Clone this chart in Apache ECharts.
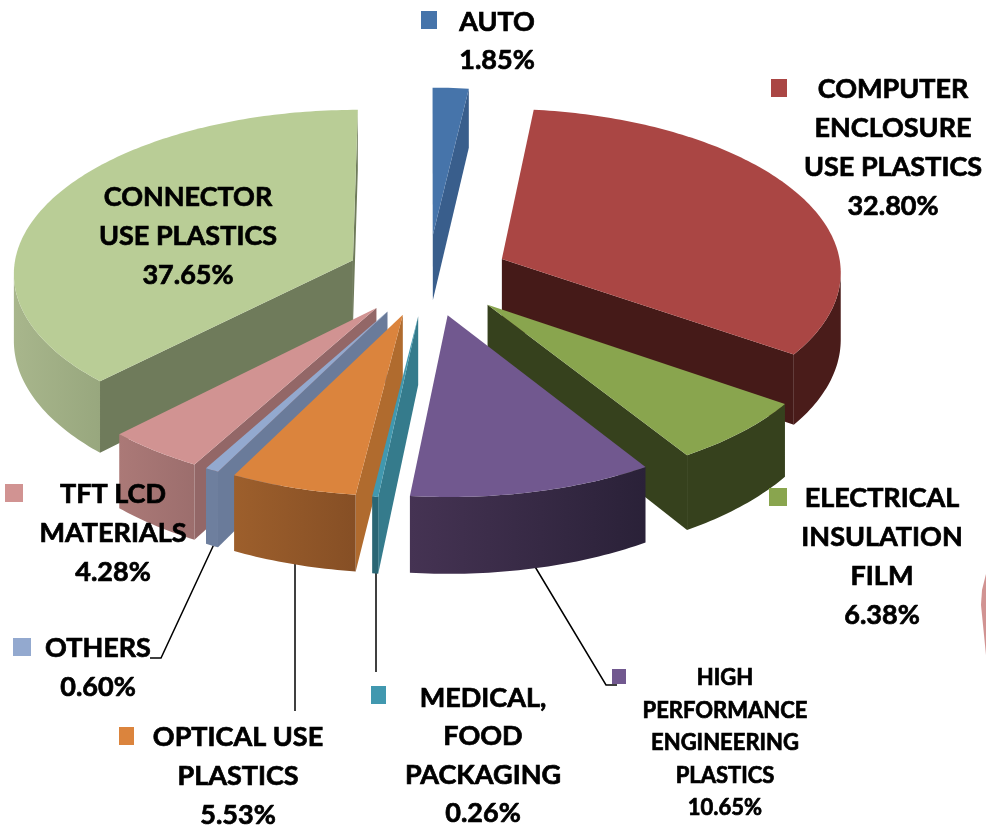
<!DOCTYPE html>
<html>
<head>
<meta charset="utf-8">
<title>Plastics by application</title>
<script src="https://cdn.jsdelivr.net/npm/echarts@6/dist/echarts.min.js"></script>
<style>
	html, body { margin: 0; padding: 0; background: #fff; }
	#chart { width: 986px; height: 829px; }
</style>
</head>
<body>
<div id="chart"></div>
<script>
	// data, clockwise from 12 o'clock
	var categories = ['AUTO', 'COMPUTER ENCLOSURE USE PLASTICS', 'ELECTRICAL INSULATION FILM', 'HIGH PERFORMANCE ENGINEERING PLASTICS', 'MEDICAL, FOOD PACKAGING', 'OPTICAL USE PLASTICS', 'OTHERS', 'TFT LCD MATERIALS', 'CONNECTOR USE PLASTICS'];
	var shares = [1.85, 32.80, 6.38, 10.65, 0.26, 5.53, 0.60, 4.28, 37.65];
	var labelLines = [
		['AUTO'],
		['COMPUTER', 'ENCLOSURE', 'USE PLASTICS'],
		['ELECTRICAL', 'INSULATION', 'FILM'],
		['HIGH', 'PERFORMANCE', 'ENGINEERING', 'PLASTICS'],
		['MEDICAL,', 'FOOD', 'PACKAGING'],
		['OPTICAL USE', 'PLASTICS'],
		['OTHERS'],
		['TFT LCD', 'MATERIALS'],
		['CONNECTOR', 'USE PLASTICS']
	];

	// colours per slice
	var topColors = ['#4674aa', '#aa4644', '#89a54e', '#71588f', '#4198af', '#db843d', '#93a9cf', '#d19392', '#b9cd96'];
	var cutColors = ['#395e8c', '#451a18', '#36411d', '#2c2239', '#357b8c', '#b06b2e', '#6a7b9a', '#936767', '#6f7b5b'];
	var rimLeft = ['#395e8c', '#4a1c1a', '#36411d', '#453353', '#2a6674', '#9d5f2c', '#6e7f9e', '#ab7977', '#a8b68c'];
	var rimRight = ['#395e8c', '#4a1c1a', '#36411d', '#2a2138', '#2a6674', '#864f25', '#6e7f9e', '#9c6e6d', '#98a77e'];

	// pie projection
	var cx = 428, cy = 275, rx = 340, ry = 163;
	var persp = 0.07, depth = 67;
	var explode = [0.25, 0.24, 0.25, 0.25, 0.25, 0.25, 0.25, 0.25, 0.24];

	// label layout
	var labelBoxes = [
		{ x: 497, y: 22, gap: 38, size: 27, sq: [421, 11, 16, 18] },
		{ x: 893, y: 89, gap: 39, size: 27, sq: [771, 79, 16, 18] },
		{ x: 882, y: 498, gap: 39, size: 27, sq: [769, 488, 18, 18] },
		{ x: 725, y: 678, gap: 32.5, size: 22, sq: [612, 669, 14, 15] },
		{ x: 483, y: 698, gap: 38.5, size: 27, sq: [371, 686, 15, 18] },
		{ x: 238, y: 737, gap: 39, size: 27, sq: [119, 727, 15, 18] },
		{ x: 98, y: 648, gap: 39, size: 27, sq: [13, 638, 18, 18] },
		{ x: 113, y: 494, gap: 39, size: 27, sq: [5, 484, 18, 18] },
		{ x: 188, y: 197, gap: 39, size: 27, sq: null }
	];
	var leaders = [
		[[215, 542], [161, 658], [150, 658]],
		[[295, 558], [295, 711]],
		[[376, 570], [376, 672]],
		[[534, 565], [606, 685], [617, 685]]
	];

	var starts = [];
	var total = 0;
	shares.forEach(function (v) {
		starts.push(total);
		total += v;
	});

	function toRad(share) {
		return share / total * Math.PI * 2;
	}

	// plane point (u right, v to the viewer) to screen, lower=true gives the bottom of the wall
	function project(u, v, lower) {
		var s = 1 / (1 - persp * v);
		return [cx + rx * u * s, cy + ry * v * s + (lower ? depth * Math.pow(s, 1.5) : 0)];
	}

	function renderSlice(params, api) {
		var i = api.value(1);
		var a0 = toRad(starts[i]);
		var a1 = toRad(starts[i] + shares[i]);
		var mid = (a0 + a1) / 2;
		var ou = explode[i] * Math.sin(mid);
		var ov = -explode[i] * Math.cos(mid);
		var steps = Math.max(2, Math.ceil((a1 - a0) * 60));
		var rim = [];
		for (var k = 0; k <= steps; k++) {
			var a = a0 + (a1 - a0) * k / steps;
			rim.push([ou + Math.sin(a), ov - Math.cos(a)]);
		}
		var apex = [ou, ov];
		var children = [];

		function cutFace(p, q) {
			var a = project(p[0], p[1]), b = project(q[0], q[1]);
			if (b[0] >= a[0]) return;
			children.push({
				type: 'polygon',
				shape: { points: [a, b, project(q[0], q[1], true), project(p[0], p[1], true)] },
				style: { fill: cutColors[i] }
			});
		}

		cutFace(apex, rim[0]);
		cutFace(rim[steps], apex);

		// only the stretch of rim that runs right to left faces the viewer
		var upper = [], lower = [];
		for (var n = 0; n < steps; n++) {
			var p0 = project(rim[n][0], rim[n][1]);
			var p1 = project(rim[n + 1][0], rim[n + 1][1]);
			if (p1[0] < p0[0]) {
				if (!upper.length) {
					upper.push(p0);
					lower.push(project(rim[n][0], rim[n][1], true));
				}
				upper.push(p1);
				lower.push(project(rim[n + 1][0], rim[n + 1][1], true));
			}
		}
		if (upper.length) {
			children.push({
				type: 'polygon',
				shape: { points: upper.concat(lower.reverse()) },
				style: {
					fill: new echarts.graphic.LinearGradient(0, 0, 1, 0, [
						{ offset: 0, color: rimLeft[i] },
						{ offset: 1, color: rimRight[i] }
					])
				}
			});
		}

		var topPts = [project(apex[0], apex[1])];
		rim.forEach(function (p) {
			topPts.push(project(p[0], p[1]));
		});
		children.push({
			type: 'polygon',
			shape: { points: topPts },
			style: { fill: topColors[i] }
		});
		return { type: 'group', children: children };
	}

	// back slices first so the front ones cover them
	var order = shares.map(function (v, i) { return i; });
	order.sort(function (a, b) {
		var ma = toRad(starts[a] + shares[a] / 2);
		var mb = toRad(starts[b] + shares[b] / 2);
		return Math.cos(mb) - Math.cos(ma);
	});
	var seriesData = order.map(function (i) {
		return { name: categories[i], value: [shares[i], i] };
	});

	var graphics = [];
	leaders.forEach(function (pts) {
		graphics.push({
			type: 'polyline',
			z: 1,
			shape: { points: pts },
			style: { stroke: '#000', lineWidth: 1.5, fill: null }
		});
	});
	labelBoxes.forEach(function (box, i) {
		var lines = labelLines[i].concat([shares[i].toFixed(2) + '%']);
		lines.forEach(function (line, n) {
			graphics.push({
				type: 'text',
				z: 10,
				x: box.x,
				y: box.y + box.gap * n,
				style: {
					text: line,
					fill: '#000',
					stroke: '#000',
					lineWidth: 0.7,
					font: 'bold ' + box.size + 'px Lato, sans-serif',
					textAlign: 'center',
					textVerticalAlign: 'middle'
				}
			});
		});
		if (box.sq) {
			graphics.push({
				type: 'rect',
				z: 10,
				shape: { x: box.sq[0], y: box.sq[1], width: box.sq[2], height: box.sq[3] },
				style: { fill: topColors[i] }
			});
		}
	});
	// stray sliver at the right edge of the source picture
	graphics.push({
		type: 'polygon',
		z: 1,
		shape: { points: [[986, 574], [982, 590], [981, 605], [983, 625], [986, 655]] },
		style: { fill: '#d19392' }
	});

	var myChart = echarts.init(document.getElementById('chart'));
	myChart.setOption({
		animation: false,
		backgroundColor: '#fff',
		graphic: graphics,
		series: [{
			type: 'custom',
			coordinateSystem: 'none',
			silent: true,
			clip: false,
			renderItem: renderSlice,
			data: seriesData
		}]
	});
</script>
</body>
</html>
